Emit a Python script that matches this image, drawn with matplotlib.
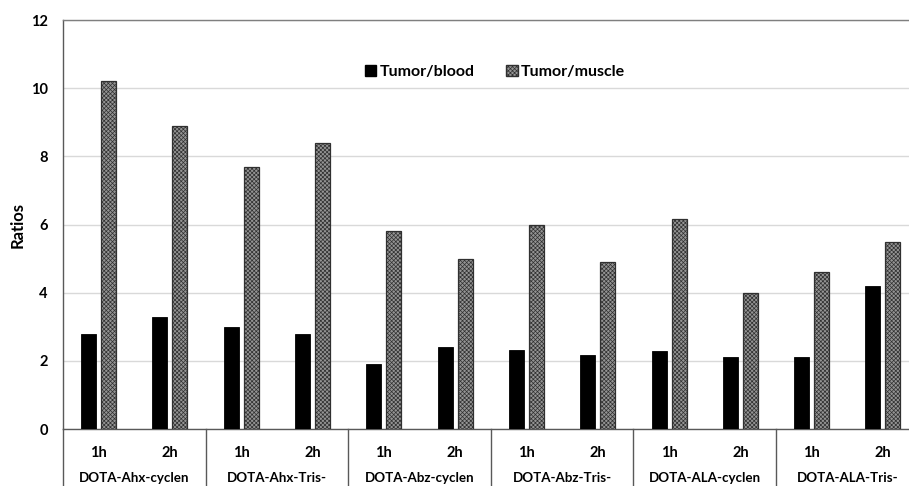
import matplotlib
matplotlib.use("Agg")
import matplotlib.pyplot as plt
from matplotlib.patches import Patch
import numpy as np

# ------------ Data ---------------
groups = ["DOTA-Ahx-cyclen", "DOTA-Ahx-Tris-", "DOTA-Abz-cyclen",
          "DOTA-Abz-Tris-", "DOTA-ALA-cyclen", "DOTA-ALA-Tris-"]
times = ["1h", "2h"]
tumor_blood = [2.8, 3.3, 3.0, 2.8, 1.9, 2.4, 2.33, 2.17, 2.3, 2.1, 2.1, 4.2]
tumor_muscle = [10.2, 8.9, 7.7, 8.4, 5.8, 5.0, 6.0, 4.9, 6.15, 4.0, 4.6, 5.5]

# ------------ Plot Setup ---------------
plt.rcParams['font.family'] = ['Lato', 'DejaVu Sans']
plt.rcParams['font.weight'] = 'bold'
plt.rcParams['hatch.color'] = '#404040'
plt.rcParams['hatch.linewidth'] = 0.5

fig = plt.figure(figsize=(9.09, 4.86), dpi=100)
ax = fig.add_axes([63 / 909, 57 / 486, 855.6 / 909, 409 / 486])

n = len(tumor_blood)
x = np.arange(n)
w = 0.21
off = 0.14

ax.bar(x - off, tumor_blood, w, color='black', edgecolor='black', linewidth=0.6, zorder=3)
ax.bar(x + off, tumor_muscle, w, color='#949494', edgecolor='#303030', linewidth=0.9,
       hatch='xxxxxxxx', zorder=3)

ax.set_xlim(-0.5, n - 0.5)
ax.set_ylim(0, 12)
ax.set_yticks(np.arange(0, 13, 2))
ax.yaxis.grid(True, color='#d9d9d9', linewidth=1.0, zorder=0)
ax.tick_params(axis='y', length=0, pad=11, labelsize=10.5)

ax.set_xticks(x)
ax.set_xticklabels(times * len(groups))
ax.tick_params(axis='x', length=0, pad=12, labelsize=10.5)

ax.set_ylabel("Ratios", fontsize=12, fontweight='bold', labelpad=4)

for s in ['left', 'bottom', 'top']:
    ax.spines[s].set_color('#595959')
    ax.spines[s].set_linewidth(1.0)
ax.spines['top'].set_color('#7f7f7f')
ax.spines['right'].set_visible(False)

# group separators and labels below axis
tr = ax.get_xaxis_transform()
for i in range(len(groups) + 1):
    xs = i * 2 - 0.5
    ax.plot([xs, xs], [0, -0.2], transform=tr, color='#595959', linewidth=1.0, clip_on=False)
for i, g in enumerate(groups):
    ax.text(i * 2 + 0.5, -0.12, g, transform=tr, ha='center', va='center',
            fontsize=9.6, fontweight='bold')

handles = [Patch(facecolor='black', edgecolor='black'),
           Patch(facecolor='#949494', edgecolor='#303030', hatch='xxxxxxxx')]
ax.legend(handles, ["Tumor/blood", "Tumor/muscle"], loc='center', ncol=2,
          bbox_to_anchor=(0.505, 0.873), frameon=False, handlelength=0.7,
          handleheight=0.7, handletextpad=0.2, columnspacing=2.0,
          prop={'weight': 'bold', 'size': 11.5})

fig.savefig("out.png", dpi=100)
